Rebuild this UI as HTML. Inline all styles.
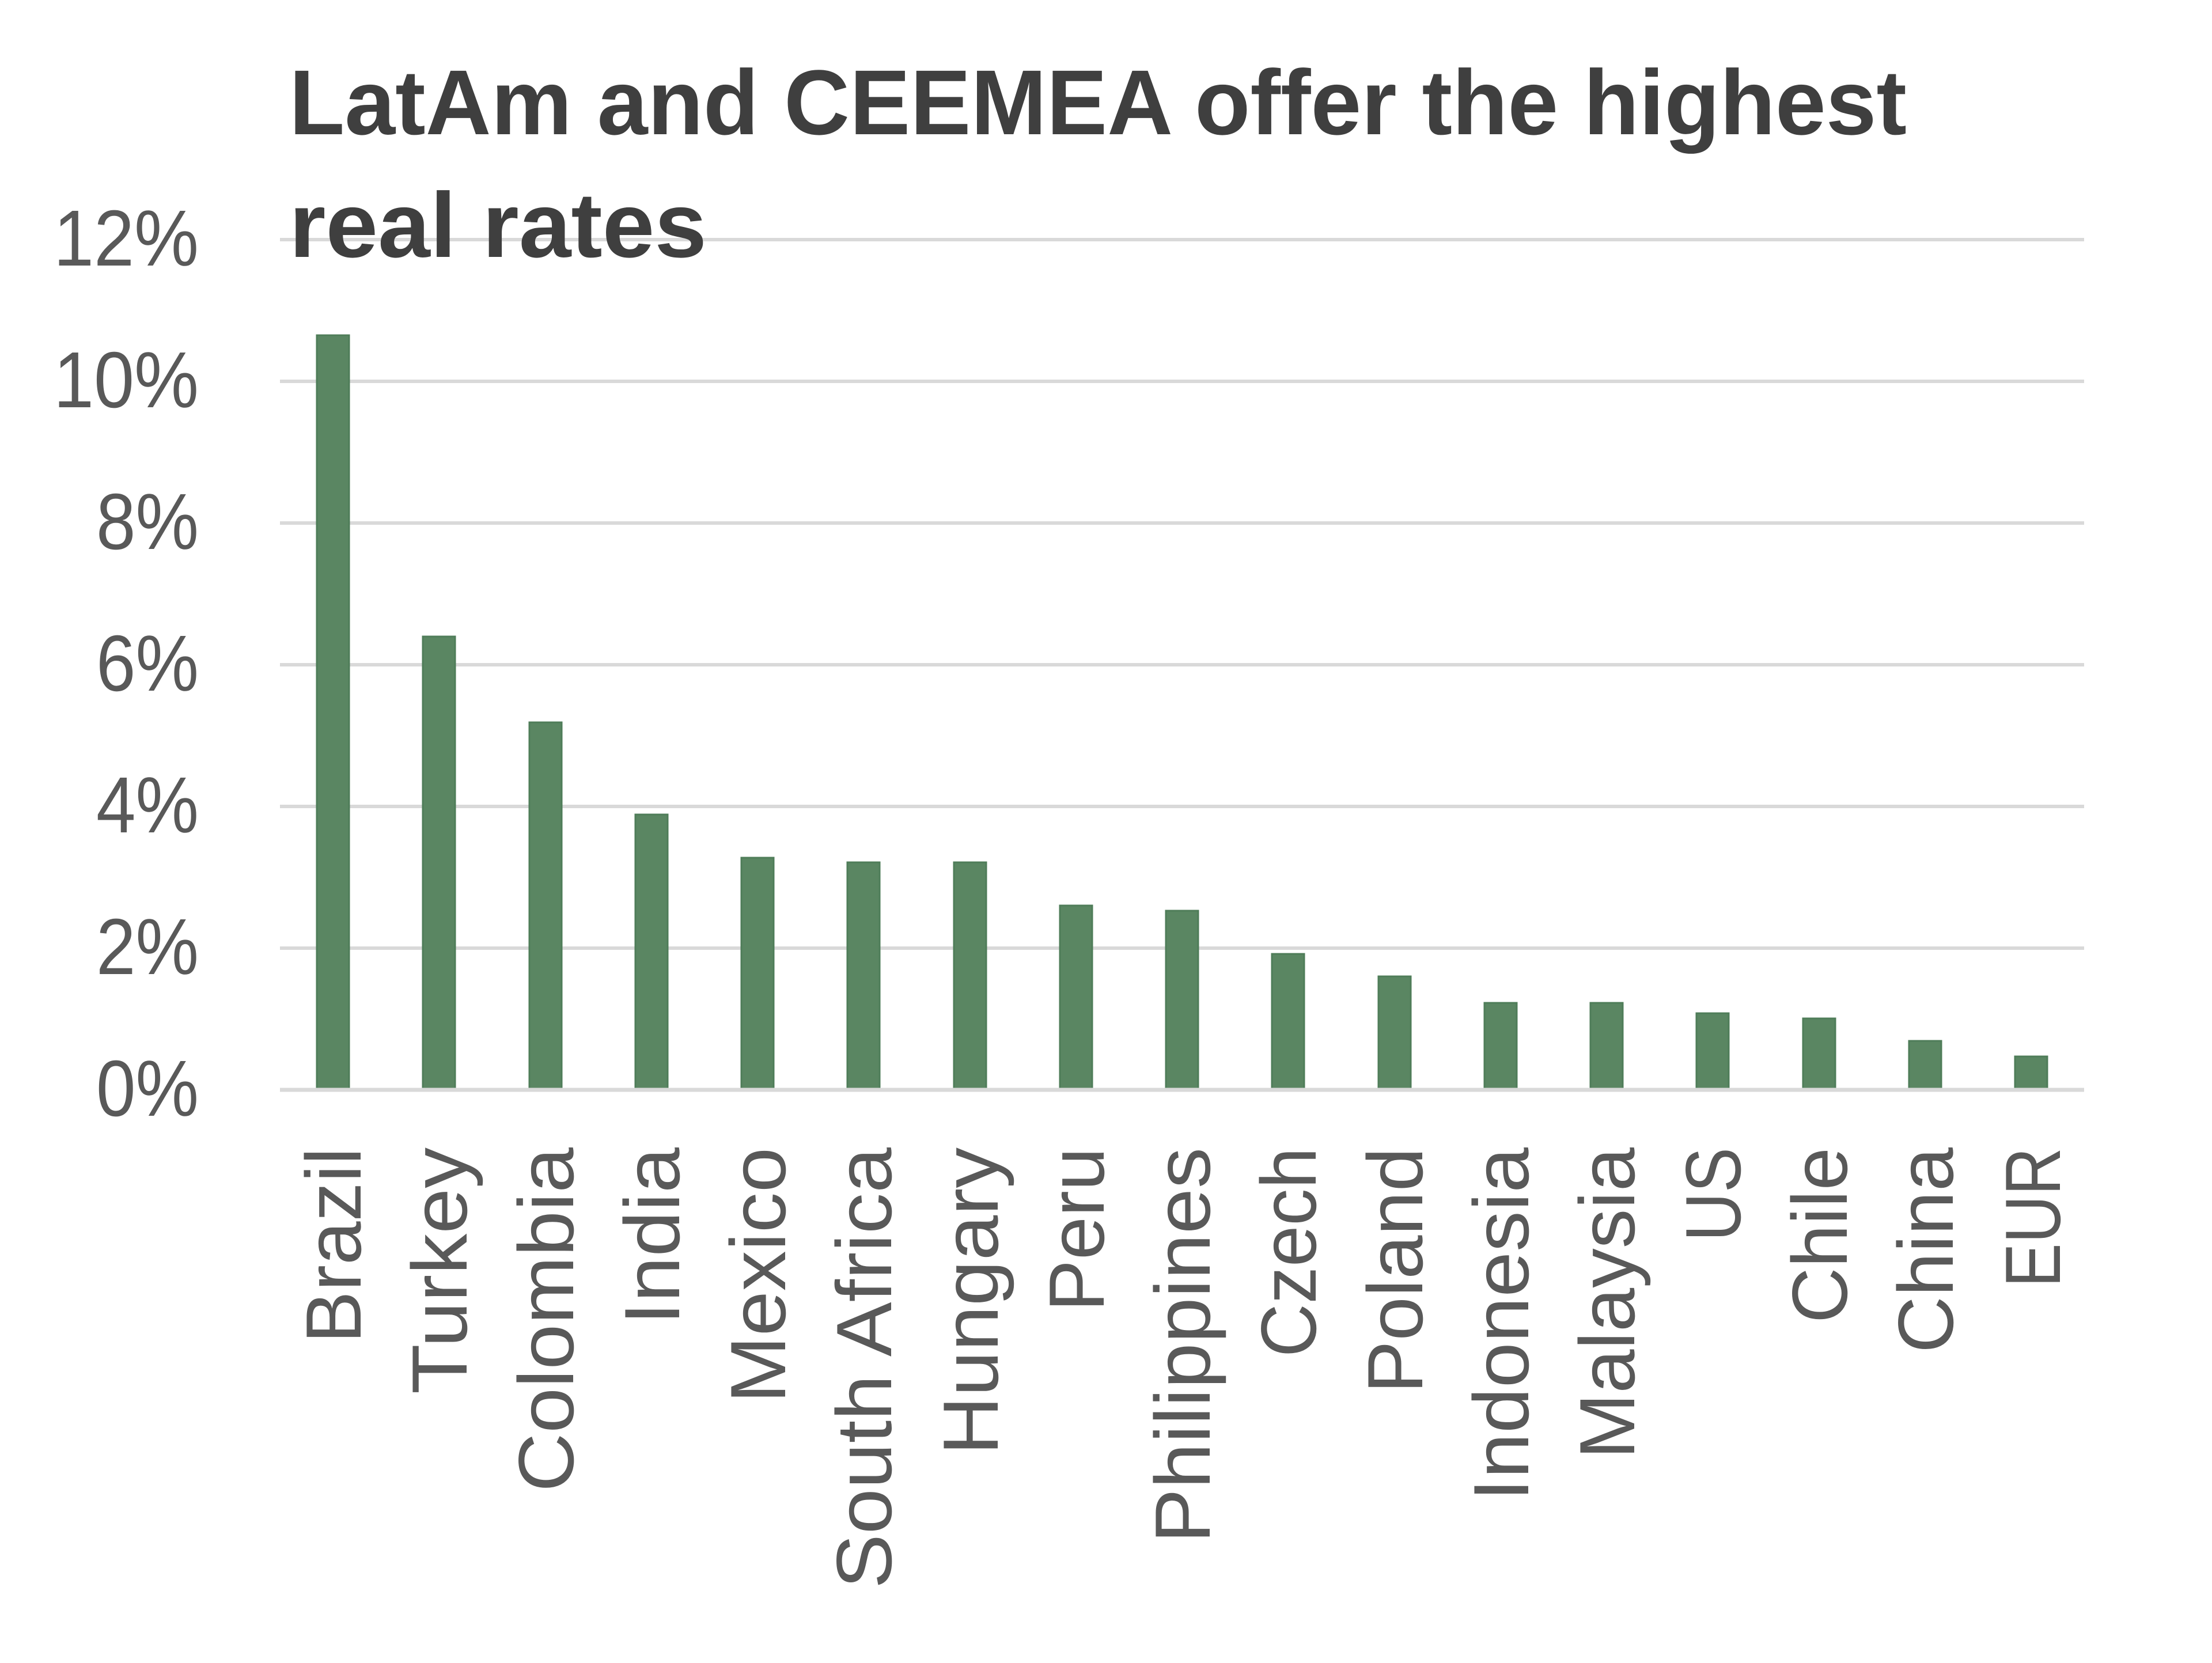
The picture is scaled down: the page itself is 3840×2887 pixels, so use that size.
<!DOCTYPE html>
<html>
<head>
<meta charset="utf-8">
<style>
  html, body { margin: 0; padding: 0; background: #ffffff; }
  svg { display: block; }
</style>
</head>
<body>
<svg xmlns="http://www.w3.org/2000/svg" width="3840" height="2887" viewBox="0 0 3840 2887">
  <rect width="3840" height="2887" fill="#ffffff"/>

  <!-- gridlines -->
  <g stroke="#d9d9d9" stroke-width="6">
    <line x1="486" y1="416" x2="3618" y2="416"/>
    <line x1="486" y1="662" x2="3618" y2="662"/>
    <line x1="486" y1="908" x2="3618" y2="908"/>
    <line x1="486" y1="1154" x2="3618" y2="1154"/>
    <line x1="486" y1="1400" x2="3618" y2="1400"/>
    <line x1="486" y1="1646" x2="3618" y2="1646"/>
  </g>

  <!-- title -->
  <g font-family="'Liberation Sans', 'DejaVu Sans', sans-serif" font-weight="bold" font-size="160" fill="#3f3f3f">
    <text x="502" y="233" textLength="2808" lengthAdjust="spacingAndGlyphs">LatAm and CEEMEA offer the highest</text>
    <text x="502" y="446" textLength="725" lengthAdjust="spacingAndGlyphs">real rates</text>
  </g>

  <!-- bars -->
  <g fill="#5a8662" stroke="#4f7d59" stroke-width="3">
    <rect x="550" y="582" width="56" height="1308"/>
    <rect x="734" y="1105" width="56" height="785"/>
    <rect x="919" y="1254" width="56" height="636"/>
    <rect x="1103" y="1414" width="56" height="476"/>
    <rect x="1287" y="1489" width="56" height="401"/>
    <rect x="1471" y="1497" width="56" height="393"/>
    <rect x="1656" y="1497" width="56" height="393"/>
    <rect x="1840" y="1572" width="56" height="318"/>
    <rect x="2024" y="1581" width="56" height="309"/>
    <rect x="2208" y="1656" width="56" height="234"/>
    <rect x="2393" y="1695" width="56" height="195"/>
    <rect x="2577" y="1741" width="56" height="149"/>
    <rect x="2761" y="1741" width="56" height="149"/>
    <rect x="2945" y="1759" width="56" height="131"/>
    <rect x="3130" y="1768" width="56" height="122"/>
    <rect x="3314" y="1807" width="56" height="83"/>
    <rect x="3498" y="1834" width="56" height="56"/>
  </g>

  <!-- zero axis line -->
  <line x1="486" y1="1892" x2="3618" y2="1892" stroke="#d9d9d9" stroke-width="7"/>

  <!-- y-axis labels -->
  <g font-family="'Liberation Sans', 'DejaVu Sans', sans-serif" font-size="138" fill="#595959" text-anchor="end">
    <text x="345" y="461" textLength="252" lengthAdjust="spacingAndGlyphs">12%</text>
    <text x="345" y="707" textLength="252" lengthAdjust="spacingAndGlyphs">10%</text>
    <text x="345" y="953" textLength="178" lengthAdjust="spacingAndGlyphs">8%</text>
    <text x="345" y="1199" textLength="178" lengthAdjust="spacingAndGlyphs">6%</text>
    <text x="345" y="1445" textLength="178" lengthAdjust="spacingAndGlyphs">4%</text>
    <text x="345" y="1691" textLength="178" lengthAdjust="spacingAndGlyphs">2%</text>
    <text x="345" y="1937" textLength="178" lengthAdjust="spacingAndGlyphs">0%</text>
  </g>

  <!-- x-axis labels (rotated) -->
  <g font-family="'Liberation Sans', 'DejaVu Sans', sans-serif" font-size="136" fill="#595959" text-anchor="end">
    <text transform="translate(626,1992) rotate(-90)" textLength="340" lengthAdjust="spacingAndGlyphs">Brazil</text>
    <text transform="translate(810,1992) rotate(-90)" textLength="428" lengthAdjust="spacingAndGlyphs">Turkey</text>
    <text transform="translate(995,1992) rotate(-90)" textLength="598" lengthAdjust="spacingAndGlyphs">Colombia</text>
    <text transform="translate(1179,1992) rotate(-90)" textLength="308" lengthAdjust="spacingAndGlyphs">India</text>
    <text transform="translate(1363,1992) rotate(-90)" textLength="444" lengthAdjust="spacingAndGlyphs">Mexico</text>
    <text transform="translate(1547,1992) rotate(-90)" textLength="766" lengthAdjust="spacingAndGlyphs">South Africa</text>
    <text transform="translate(1732,1992) rotate(-90)" textLength="534" lengthAdjust="spacingAndGlyphs">Hungary</text>
    <text transform="translate(1916,1992) rotate(-90)" textLength="285" lengthAdjust="spacingAndGlyphs">Peru</text>
    <text transform="translate(2100,1992) rotate(-90)" textLength="687" lengthAdjust="spacingAndGlyphs">Philippines</text>
    <text transform="translate(2284,1992) rotate(-90)" textLength="364" lengthAdjust="spacingAndGlyphs">Czech</text>
    <text transform="translate(2469,1992) rotate(-90)" textLength="427" lengthAdjust="spacingAndGlyphs">Poland</text>
    <text transform="translate(2653,1992) rotate(-90)" textLength="614" lengthAdjust="spacingAndGlyphs">Indonesia</text>
    <text transform="translate(2837,1992) rotate(-90)" textLength="541" lengthAdjust="spacingAndGlyphs">Malaysia</text>
    <text transform="translate(3021,1992) rotate(-90)" textLength="163" lengthAdjust="spacingAndGlyphs">US</text>
    <text transform="translate(3206,1992) rotate(-90)" textLength="305" lengthAdjust="spacingAndGlyphs">Chile</text>
    <text transform="translate(3390,1992) rotate(-90)" textLength="357" lengthAdjust="spacingAndGlyphs">China</text>
    <text transform="translate(3576,1992) rotate(-90)" textLength="243" lengthAdjust="spacingAndGlyphs">EUR</text>
  </g>
</svg>
</body>
</html>
